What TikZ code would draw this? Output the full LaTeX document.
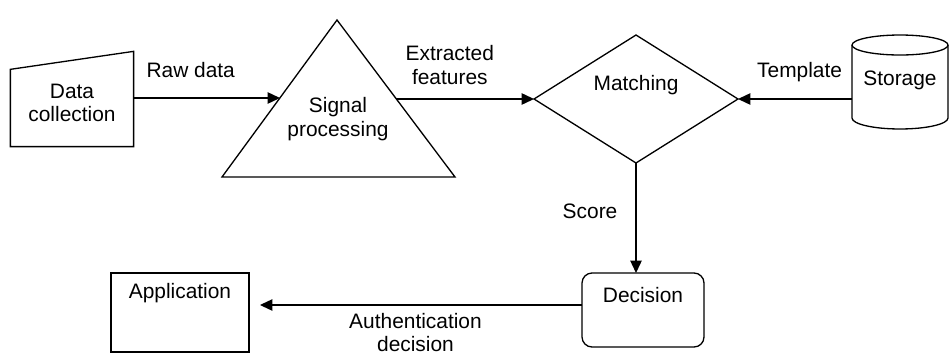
\documentclass[tikz,border=0pt]{standalone}
\usepackage{fontspec}
\setmainfont{Liberation Sans}
\usepackage{tikz}
\usetikzlibrary{positioning}
\usetikzlibrary{arrows.meta}
\usetikzlibrary{shapes.geometric}
\tikzset{my_flow/.style={->,>={Triangle[length=2.5mm,width=2.3mm]},line width=0.75pt,x=0.02cm,y=-0.02cm,font=\fontsize{11.9}{13.4}\selectfont}}
\tikzset{my_block/.style={rectangle, draw, inner sep=0pt, outer sep=0pt}}
\tikzset{my_text/.style={align=center, inner sep=0pt}}
\tikzset{my_edge_label/.style={anchor=base, align=center, inner sep=0pt}}

\begin{document}
\begin{tikzpicture}[my_flow]
    \useasboundingbox (0,0) rectangle (949,355);
    %\draw[help lines, step=50] (0,0) grid (949,355);
    \node[my_text, minimum width=2.44cm, minimum height=1.72cm] (collect) at (72,103) {Data\\collection};
    \draw[-] (collect.south west) -- (collect.south east) -- ([yshift=0.16cm]collect.north east)
        -- ([yshift=-0.2cm]collect.north west) -- cycle;

    \coordinate (sigtop) at (337,20);
    \coordinate (sigleft) at (222,177);
    \coordinate (sigright) at (455,177);
    \coordinate (sigin) at (280,98);
    \coordinate (sigout) at (396,99);
    \draw[-] (sigtop) -- (sigleft) -- (sigright) -- cycle;
    \node[my_text] (signal) at (338,119) {Signal\\processing};

    \node[diamond, draw, inner sep=0pt, outer sep=0pt, minimum width=4.08cm, minimum height=2.56cm,
        label={[anchor=base, yshift=-1.1cm]north:Matching}] (match) at (636,99) {};

    \node[my_block, draw=none, minimum width=1.92cm, minimum height=1.46cm,
        label={[anchor=base, yshift=-0.8cm]north:Storage}] (store) at (900,81.5) {};
    \draw[-] (store.north west) -- (store.south west)
        arc[start angle=180, end angle=360, x radius=0.96cm, y radius=0.22cm] -- (store.north east);
    \draw[-] (store.north) ellipse[x radius=0.96cm, y radius=0.2cm];

    \node[my_block, rounded corners=0.2cm, minimum width=2.44cm, minimum height=1.48cm,
        label={[anchor=base, yshift=-0.58cm]north:Decision}] (decide) at (643,310) {};
    \node[my_block, minimum width=2.76cm, minimum height=1.58cm,
        label={[anchor=base, yshift=-0.5cm]north:Application}] (app) at (180,312.5) {};

    \path
        (collect.east |- sigin) edge node [my_edge_label, pos=0.39, yshift=0.42cm] {Raw data} (sigin)
        (sigout) edge node [my_edge_label, pos=0.39, yshift=0.3cm] {Extracted\\features} (match.west)
        (store.west |- match.east) edge node [my_edge_label, pos=0.46, yshift=0.44cm] {Template} (match.east)
        (match.south) edge node [pos=0.44, left=0.36cm, inner sep=0pt] {Score} (match.south |- decide.north)
        ([yshift=0.1cm]decide.west) edge [shorten >=0.22cm] node [my_edge_label, pos=0.5, yshift=-0.94cm] {Authentication\\decision} ([yshift=0.1cm]decide.west -| app.east)
    ;
\end{tikzpicture}
\end{document}
